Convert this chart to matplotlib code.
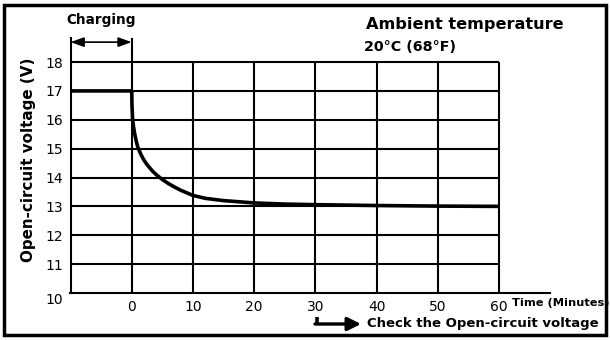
import matplotlib.pyplot as plt
from matplotlib.lines import Line2D
from matplotlib.patches import Rectangle, FancyArrowPatch

plt.rcParams['font.family'] = ['DejaVu Sans']

# open-circuit voltage after charging, time in minutes
minutes = [-10, 0, 0.05, 0.15, 0.3, 0.5, 0.75, 1, 1.5, 2, 2.5, 3, 3.5, 4, 5, 6, 7, 8,
           10, 12, 15, 20, 25, 30, 40, 50, 60]
volts = [17, 17, 16.45, 16.0, 15.75, 15.5, 15.25, 15.05, 14.8, 14.6, 14.45, 14.32,
         14.2, 14.1, 13.93, 13.79, 13.67, 13.56, 13.38, 13.28, 13.2, 13.12, 13.08,
         13.06, 13.03, 13.01, 13.0]

x_ticks = [0, 10, 20, 30, 40, 50, 60]
y_ticks = [10, 11, 12, 13, 14, 15, 16, 17, 18]

W, H = 610, 340
fig = plt.figure(figsize=(W / 100, H / 100), dpi=100)
ax = fig.add_axes([70.5 / W, 47 / H, 479.5 / W, 255.5 / H])
ax.set_xlim(-10, 68.33)
ax.set_ylim(10, 18.85)


def px(x, y):
    # pixel position (from top-left) to figure fraction
    return x / W, 1 - y / H


lw = 1.5
for s in ['top', 'right']:
    ax.spines[s].set_visible(False)
for s in ['left', 'bottom']:
    ax.spines[s].set_linewidth(lw)

# grid
ax.hlines(y_ticks[1:], -10, 60, color='black', lw=lw)
ax.vlines(x_ticks[1:], 10, 18, color='black', lw=lw)
ax.vlines(0, 10, 18.85, color='black', lw=lw)

ax.plot(minutes, volts, color='black', lw=2.6, solid_capstyle='butt')

ax.set_xticks(x_ticks)
ax.set_yticks(y_ticks)
ax.tick_params(length=0, labelsize=10)
ax.tick_params(axis='x', pad=5)
ax.tick_params(axis='y', pad=5)
ax.get_yticklabels()[0].set_verticalalignment('top')

# charging period arrow
ax.annotate('', xy=(-10, 18.69), xytext=(0, 18.69),
            arrowprops=dict(arrowstyle='<|-|>,head_length=0.5,head_width=0.18',
                            color='black', lw=1.2, mutation_scale=16,
                            shrinkA=0, shrinkB=0))

bold = dict(weight='bold')
fig.text(*px(66, 20), 'Charging', fontsize=9.8, va='center', **bold)
fig.text(*px(366, 25), 'Ambient temperature', fontsize=11.6, va='center', **bold)
fig.text(*px(364, 47), '20°C (68°F)', fontsize=10.3, va='center', **bold)
fig.text(*px(29, 160), 'Open-circuit voltage (V)', fontsize=10.9,
         rotation=90, ha='center', va='center', **bold)
fig.text(*px(512, 303), 'Time (Minutes)', fontsize=8.2, va='center', **bold)
fig.text(*px(367, 323), 'Check the Open-circuit voltage', fontsize=9.5,
         va='center', **bold)

# check arrow
fig.add_artist(Line2D(*zip(px(316.5, 317), px(316.5, 325)), transform=fig.transFigure,
                      color='black', lw=2.6, solid_capstyle='butt'))
fig.add_artist(FancyArrowPatch(px(315, 324), px(361, 324), transform=fig.transFigure,
                               arrowstyle='-|>,head_length=0.5,head_width=0.25',
                               mutation_scale=16, lw=2.4,
                               color='black', shrinkA=0, shrinkB=0))

# frame round the whole figure
fig.add_artist(Rectangle(px(4, 335), 602 / W, 330 / H, transform=fig.transFigure,
                         fill=False, lw=2.5, edgecolor='black'))

fig.savefig('out.png', dpi=100)
